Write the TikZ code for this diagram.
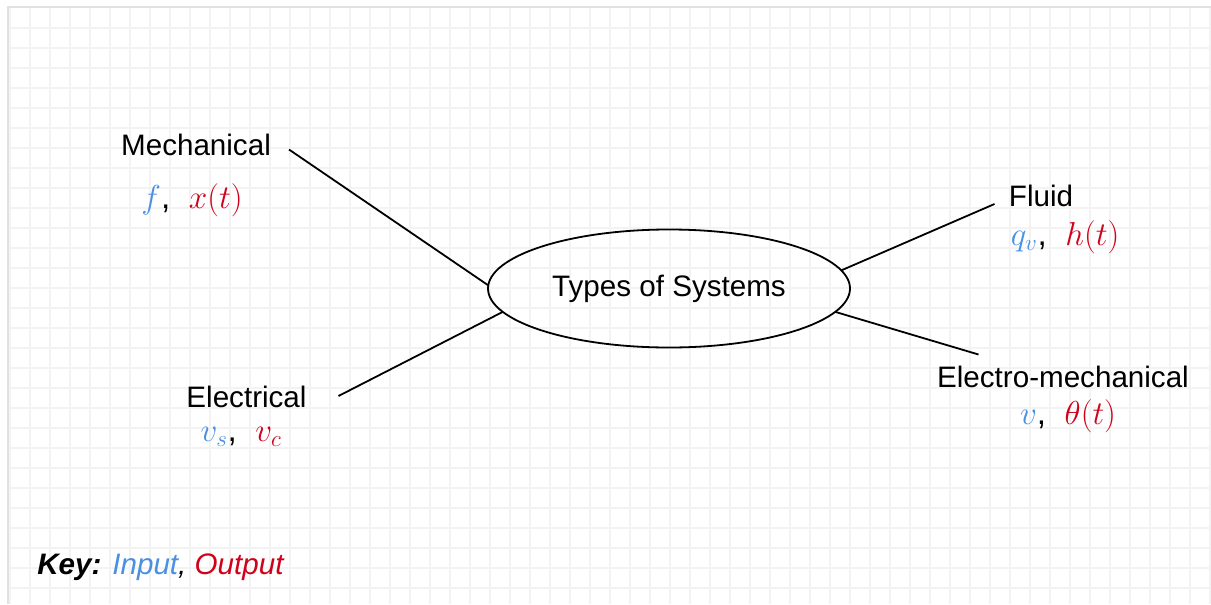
\documentclass[tikz,border=0pt]{standalone}
\usepackage{fontspec}
\setmainfont{Liberation Sans}
\usetikzlibrary{shapes.geometric}
\definecolor{inblue}{RGB}{74,144,226}
\definecolor{outred}{RGB}{208,2,27}
\definecolor{gridc}{RGB}{243,243,243}
\definecolor{framec}{RGB}{225,225,225}
\begin{document}
\begin{tikzpicture}[x=0.75pt,y=-0.75pt,
  lbl/.style={inner sep=0pt,font=\fontsize{22.2}{26}\selectfont},
  mlbl/.style={inner sep=0pt,font=\fontsize{25}{28}\selectfont},
  conn/.style={line width=1.35pt,black},
  sysnode/.style={ellipse,draw,line width=1.35pt,minimum width=271.5pt,minimum height=88.5pt,inner sep=0pt,outer sep=0pt,font=\fontsize{22.2}{26}\selectfont}]
\useasboundingbox (0,0) rectangle (1211,604);
\fill[white] (0,0) rectangle (1211,604);
\foreach \gx in {10,30,...,1210} \draw[gridc,line width=1.5pt] (\gx,7.5) -- (\gx,604);
\foreach \gy in {27.5,47.5,...,604} \draw[gridc,line width=1.5pt] (8,\gy) -- (1211,\gy);
\draw[framec,line width=0.9pt] (8,604) -- (8,7) -- (1211,7);

\node[sysnode] (sys) at (669,288.5) {Types of Systems};

\node[lbl] (mech) at (196,145) {Mechanical};
\node[mlbl] (mechv) at (192,200) {$\color{inblue}f$,\; $\color{outred}x(t)$};
\node[lbl] (elec) at (246.5,397) {Electrical};
\node[mlbl] (elecv) at (241,437) {$\color{inblue}v_s$,\; $\color{outred}v_c$};
\node[lbl] (fluid) at (1041,196) {Fluid};
\node[mlbl] (fluidv) at (1065,237) {$\color{inblue}q_v$,\; $\color{outred}h(t)$};
\node[lbl] (em) at (1063,377) {Electro-mechanical};
\node[mlbl] (emv) at (1068,416) {$\color{inblue}v$,\; $\color{outred}\theta(t)$};
\node[lbl,anchor=west] (key) at (37,567) {\textbf{\textit{Key:}} \textit{\color{inblue}Input}\textit{,} \textit{\color{outred}Output}};

\coordinate (mechend) at (289,149.5);
\coordinate (elecend) at (338.5,396);
\coordinate (fluidend) at (994.5,204);
\coordinate (emend) at (978.5,354.5);

\draw[conn] (mechend) -- (sys.179.4);
\draw[conn] (elecend) -- (sys.188.5);
\draw[conn] (fluidend) -- (sys.6.3);
\draw[conn] (emend) -- (sys.352.6);
\end{tikzpicture}
\end{document}
